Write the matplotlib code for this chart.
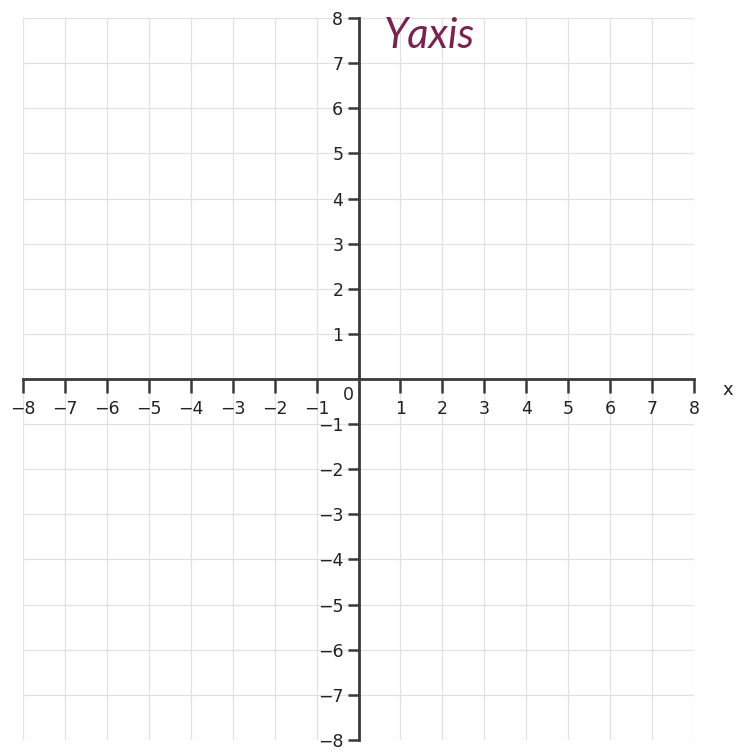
import matplotlib
matplotlib.use("Agg")
import matplotlib.pyplot as plt

# coordinate plane, -8..8 on both axes
x_ticks = [-8, -7, -6, -5, -4, -3, -2, -1, 1, 2, 3, 4, 5, 6, 7, 8]
y_ticks = [-8, -7, -6, -5, -4, -3, -2, -1, 1, 2, 3, 4, 5, 6, 7, 8]
grid_vals = list(range(-8, 9))
lim = (-8, 8)
axis_color = "#3a3a3a"
grid_color = "#e2e2e2"

fig = plt.figure(figsize=(7.47, 7.52), dpi=100)
ax = fig.add_axes([0.031, 0.016, 0.898, 0.960])
ax.set_xlim(*lim)
ax.set_ylim(*lim)

for v in grid_vals:
    ax.axvline(v, color=grid_color, lw=0.9, zorder=0)
    ax.axhline(v, color=grid_color, lw=0.9, zorder=0)

for side in ["top", "right"]:
    ax.spines[side].set_visible(False)
ax.spines["left"].set_position(("data", 0))
ax.spines["bottom"].set_position(("data", 0))
for side in ["left", "bottom"]:
    ax.spines[side].set_color(axis_color)
    ax.spines[side].set_linewidth(2)

ax.set_xticks(x_ticks)
ax.set_yticks(y_ticks)
ax.set_xticklabels([f"\u2212{abs(v)}" if v < 0 else str(v) for v in x_ticks])
ax.set_yticklabels([f"\u2212{abs(v)}" if v < 0 else str(v) for v in y_ticks])
ax.tick_params(axis="x", direction="out", length=10, width=1.8, color=axis_color,
               labelsize=12.5, labelcolor="#222222", pad=5)
ax.tick_params(axis="y", direction="out", length=8, width=1.8, color=axis_color,
               labelsize=12.5, labelcolor="#222222", pad=3)

# origin label and axis name
ax.text(-0.25, -0.15, "0", ha="center", va="top", fontsize=12.5, color="#222222")
ax.text(8.8, -0.25, "x", ha="center", va="center", fontsize=13, color="#222222",
        clip_on=False)
ax.text(0.6, 7.6, "Yaxis", ha="left", va="center", fontsize=30, style="italic",
        family="Lato", color="#7a2350", clip_on=False)

fig.savefig("out.png", dpi=100)
